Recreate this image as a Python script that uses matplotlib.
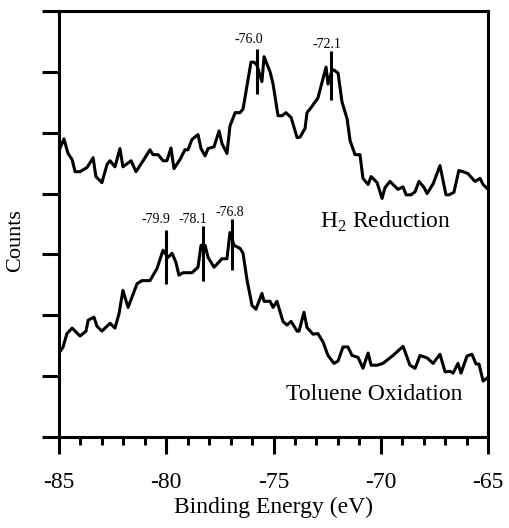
import numpy as np
import matplotlib
matplotlib.use("Agg")
import matplotlib.pyplot as plt

plt.rcParams['font.family'] = ['Liberation Serif', 'DejaVu Serif']
plt.rcParams['mathtext.fontset'] = 'custom'
plt.rcParams['mathtext.rm'] = 'Liberation Serif'
plt.rcParams['axes.unicode_minus'] = False

# H2 reduction spectrum (upper trace), binding energy in eV vs offset counts
h2_energy = [-84.95, -84.77, -84.58, -84.39, -84.25, -84.02, -83.69, -83.41, -83.28, -83.00,
             -82.76, -82.62, -82.39, -82.16, -82.02, -81.64, -81.41, -81.08, -80.76, -80.62,
             -80.38, -80.15, -79.97, -79.78, -79.64, -79.36, -79.13, -78.99, -78.80, -78.52,
             -78.38, -78.19, -78.05, -77.77, -77.54, -77.40, -77.17, -77.03, -76.79, -76.56,
             -76.42, -76.05, -75.91, -75.77, -75.54, -75.44, -75.16, -75.02, -74.79, -74.60,
             -74.42, -74.18, -73.90, -73.76, -73.53, -73.44, -73.30, -72.93, -72.55, -72.46,
             -72.27, -72.18, -71.99, -71.81, -71.57, -71.43, -71.20, -70.97, -70.83, -70.59,
             -70.45, -70.17, -69.94, -69.80, -69.57, -69.20, -68.96, -68.82, -68.59, -68.40,
             -68.22, -67.98, -67.84, -67.56, -67.24, -66.96, -66.82, -66.59, -66.36, -66.17,
             -65.94, -65.61, -65.37, -65.23, -65.00]
h2_counts = [4.75, 4.90, 4.66, 4.56, 4.36, 4.36, 4.43, 4.59, 4.28, 4.18,
             4.48, 4.54, 4.44, 4.74, 4.44, 4.54, 4.36, 4.54, 4.72, 4.64,
             4.64, 4.54, 4.54, 4.75, 4.41, 4.56, 4.72, 4.72, 4.89, 4.97,
             4.74, 4.62, 4.74, 4.77, 5.03, 4.82, 4.66, 5.11, 5.33, 5.33,
             5.39, 6.16, 6.16, 6.11, 5.84, 6.25, 6.00, 5.80, 5.28, 5.28,
             5.33, 5.25, 4.92, 4.93, 5.07, 5.33, 5.39, 5.57, 6.08, 5.80,
             6.03, 6.03, 5.98, 5.51, 5.23, 4.87, 4.64, 4.64, 4.25, 4.15,
             4.28, 4.18, 3.92, 4.10, 4.20, 4.07, 4.11, 3.98, 3.98, 4.03,
             4.20, 4.10, 4.00, 4.16, 4.46, 3.98, 3.98, 4.02, 4.38, 4.36,
             4.33, 4.20, 4.25, 4.15, 4.07]

# Toluene oxidation spectrum (lower trace)
tol_energy = [-85.00, -84.81, -84.63, -84.39, -84.02, -83.74, -83.64, -83.37, -83.23, -83.00,
              -82.62, -82.39, -82.20, -82.02, -81.78, -81.36, -81.13, -80.76, -80.43, -80.15,
              -79.92, -79.73, -79.55, -79.41, -79.22, -78.80, -78.52, -78.38, -78.19, -78.05,
              -77.77, -77.40, -77.17, -77.03, -76.84, -76.56, -76.42, -76.24, -76.00, -75.82,
              -75.54, -75.44, -75.16, -75.02, -74.84, -74.56, -74.37, -74.18, -73.90, -73.81,
              -73.58, -73.44, -73.16, -72.93, -72.69, -72.46, -72.18, -71.99, -71.76, -71.53,
              -71.34, -71.06, -70.83, -70.59, -70.45, -70.17, -69.90, -69.43, -68.96, -68.64,
              -68.40, -68.17, -67.84, -67.56, -67.24, -67.00, -66.77, -66.63, -66.40, -66.26,
              -65.98, -65.75, -65.56, -65.42, -65.23, -65.00]
tol_counts = [1.38, 1.48, 1.70, 1.79, 1.66, 1.74, 1.92, 1.97, 1.82, 1.74,
              1.87, 1.79, 2.03, 2.41, 2.13, 2.52, 2.57, 2.57, 2.77, 3.07,
              2.95, 3.02, 2.87, 2.66, 2.70, 2.70, 2.79, 3.15, 3.15, 2.95,
              2.79, 2.93, 2.93, 3.36, 3.15, 3.10, 3.02, 2.59, 2.16, 2.10,
              2.36, 2.23, 2.23, 2.13, 2.23, 1.90, 1.84, 1.90, 1.74, 1.74,
              2.05, 1.80, 1.69, 1.70, 1.56, 1.34, 1.21, 1.25, 1.48, 1.48,
              1.34, 1.31, 1.13, 1.38, 1.18, 1.18, 1.21, 1.34, 1.49, 1.18,
              1.13, 1.34, 1.30, 1.21, 1.36, 1.07, 1.08, 1.05, 1.21, 1.05,
              1.33, 1.36, 1.20, 1.20, 0.92, 0.98]

# peak markers: position, vertical extent, label text, label anchor
peak_x = [-75.77, -72.32, -80.01, -78.29, -76.93]
peak_lo = [5.64, 5.54, 2.52, 2.57, 2.74]
peak_hi = [6.38, 6.34, 3.41, 3.46, 3.59]
peak_labels = ['-76.0', '-72.1', '-79.9', '-78.1', '-76.8']
label_x = [-76.14, -72.53, -80.49, -78.74, -77.02]
label_y = [6.48, 6.39, 3.51, 3.52, 3.64]

fig = plt.figure(figsize=(5.10, 5.28), dpi=100)
ax = fig.add_axes([0.1157, 0.1723, 0.8412, 0.8068])

lw = 2.2
ax.plot(h2_energy, h2_counts, color='black', lw=lw)
ax.plot(tol_energy, tol_counts, color='black', lw=lw)
ax.vlines(peak_x, peak_lo, peak_hi, color='black', lw=lw)
for lx, ly, t in zip(label_x, label_y, peak_labels):
    ax.text(lx, ly, t, ha='center', va='baseline', fontsize=10)

ax.text(-72.81, 3.44, 'H$_2$ Reduction', fontsize=17, va='baseline')
ax.text(-74.40, 0.61, 'Toluene Oxidation', fontsize=17, va='baseline')

ax.set_xlim(-85, -65)
ax.set_ylim(0, 7)
ax.set_xticks(np.arange(-85, -64, 5))
ax.set_xticks(np.arange(-85, -64, 1), minor=True)
ax.set_yticks(np.arange(0, 8, 1))
ax.set_yticklabels([])
ax.tick_params(axis='both', which='major', direction='out', length=12, width=lw,
               labelsize=17, pad=13)
ax.tick_params(axis='x', which='minor', direction='out', length=6, width=lw)
for s in ax.spines.values():
    s.set_linewidth(lw)

ax.set_xlabel('Binding Energy (eV)', fontsize=17, labelpad=3)
fig.text(0.031, 0.544, 'Counts', rotation=90, fontsize=16, ha='center', va='center')

fig.savefig('out.png', dpi=100)
